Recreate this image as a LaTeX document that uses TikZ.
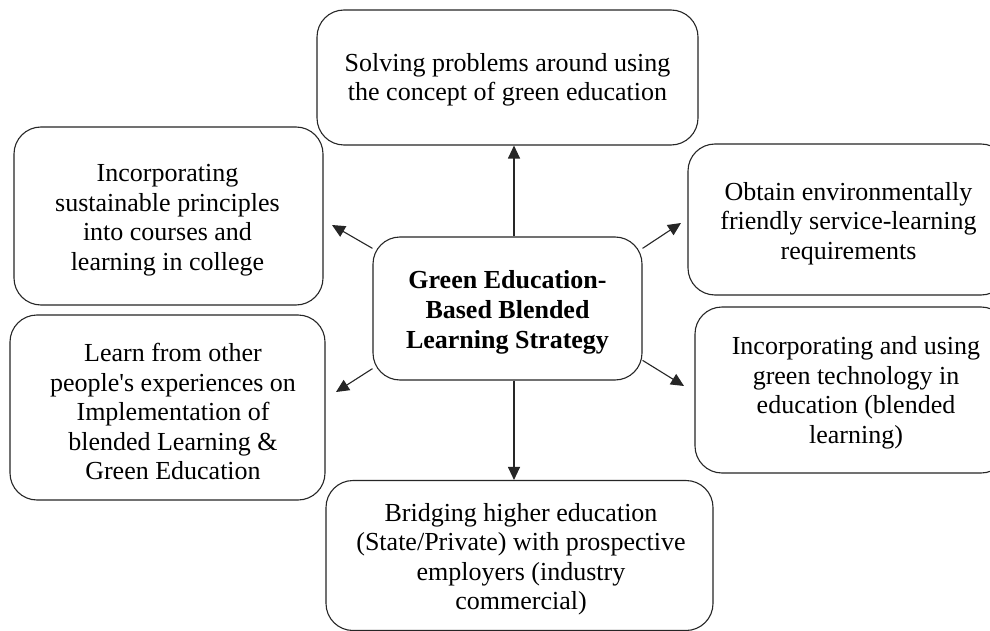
\documentclass[tikz,border=0pt]{standalone}
\usepackage{fontspec}
\setmainfont{Liberation Serif}
\usetikzlibrary{arrows.meta}
\begin{document}
\begin{tikzpicture}[x=1pt,y=-1pt,
  box/.style={draw=black!85, rounded corners=27pt, line width=1.1pt, inner sep=0pt},
  txt/.style={align=center, inner sep=0pt, font=\fontsize{26}{29.5}\selectfont},
  arr/.style={draw=black!85, line width=1.1pt, -{Triangle[length=13pt,width=12pt]}}]
\clip (0,0) rectangle (990,631);
\fill[white] (0,0) rectangle (990,631);
% boxes
\node[box, minimum width=381pt, minimum height=135pt] (top) at (507.5,77.5) {};
\node[box, minimum width=309pt, minimum height=178pt] (lt) at (168.5,216) {};
\node[box, minimum width=320pt, minimum height=151pt] (rt) at (848,219.5) {};
\node[box, minimum width=269pt, minimum height=143pt] (ctr) at (507.5,308.5) {};
\node[box, minimum width=315pt, minimum height=185pt] (lb) at (167.5,407.5) {};
\node[box, minimum width=313pt, minimum height=166pt] (rb) at (851.5,390) {};
\node[box, minimum width=387pt, minimum height=150pt] (bot) at (519.5,555.5) {};
% texts
\node[txt] (ttop) at (507.5,80) {Solving problems around using\\the concept of green education};
\node[txt] (tlt) at (167.5,220) {Incorporating\\sustainable principles\\into courses and\\learning in college};
\node[txt] (trt) at (848.5,223.5) {Obtain environmentally\\friendly service-learning\\requirements};
\node[txt, font=\bfseries\fontsize{26}{30}\selectfont] (tctr) at (507.5,312) {Green Education-\\Based Blended\\Learning Strategy};
\node[txt] (tlb) at (173,411.5) {Learn from other\\people\textquotesingle s experiences on\\Implementation of\\blended Learning \&\\Green Education};
\node[txt] (trb) at (856,393) {Incorporating and using\\green technology in\\education (blended\\learning)};
\node[txt] (tbot) at (521,559) {Bridging higher education\\(State/Private) with prospective\\employers (industry\\commercial)};
% arrow ends
\coordinate (elt) at (332,225);
\coordinate (ert) at (681,223);
\coordinate (elb) at (336,392);
\coordinate (erb) at (684,386);
% arrows
\draw[arr] ([xshift=6.5pt]ctr.north) -- ([xshift=6.5pt]top.south);
\draw[arr] ([xshift=6.5pt]ctr.south) -- ([xshift=-5.5pt]bot.north);
\draw[arr] (ctr.156.6) -- (elt);
\draw[arr] (ctr.24.5) -- (ert);
\draw[arr] (ctr.204.2) -- (elb);
\draw[arr] (ctr.339.2) -- (erb);
\end{tikzpicture}
\end{document}
